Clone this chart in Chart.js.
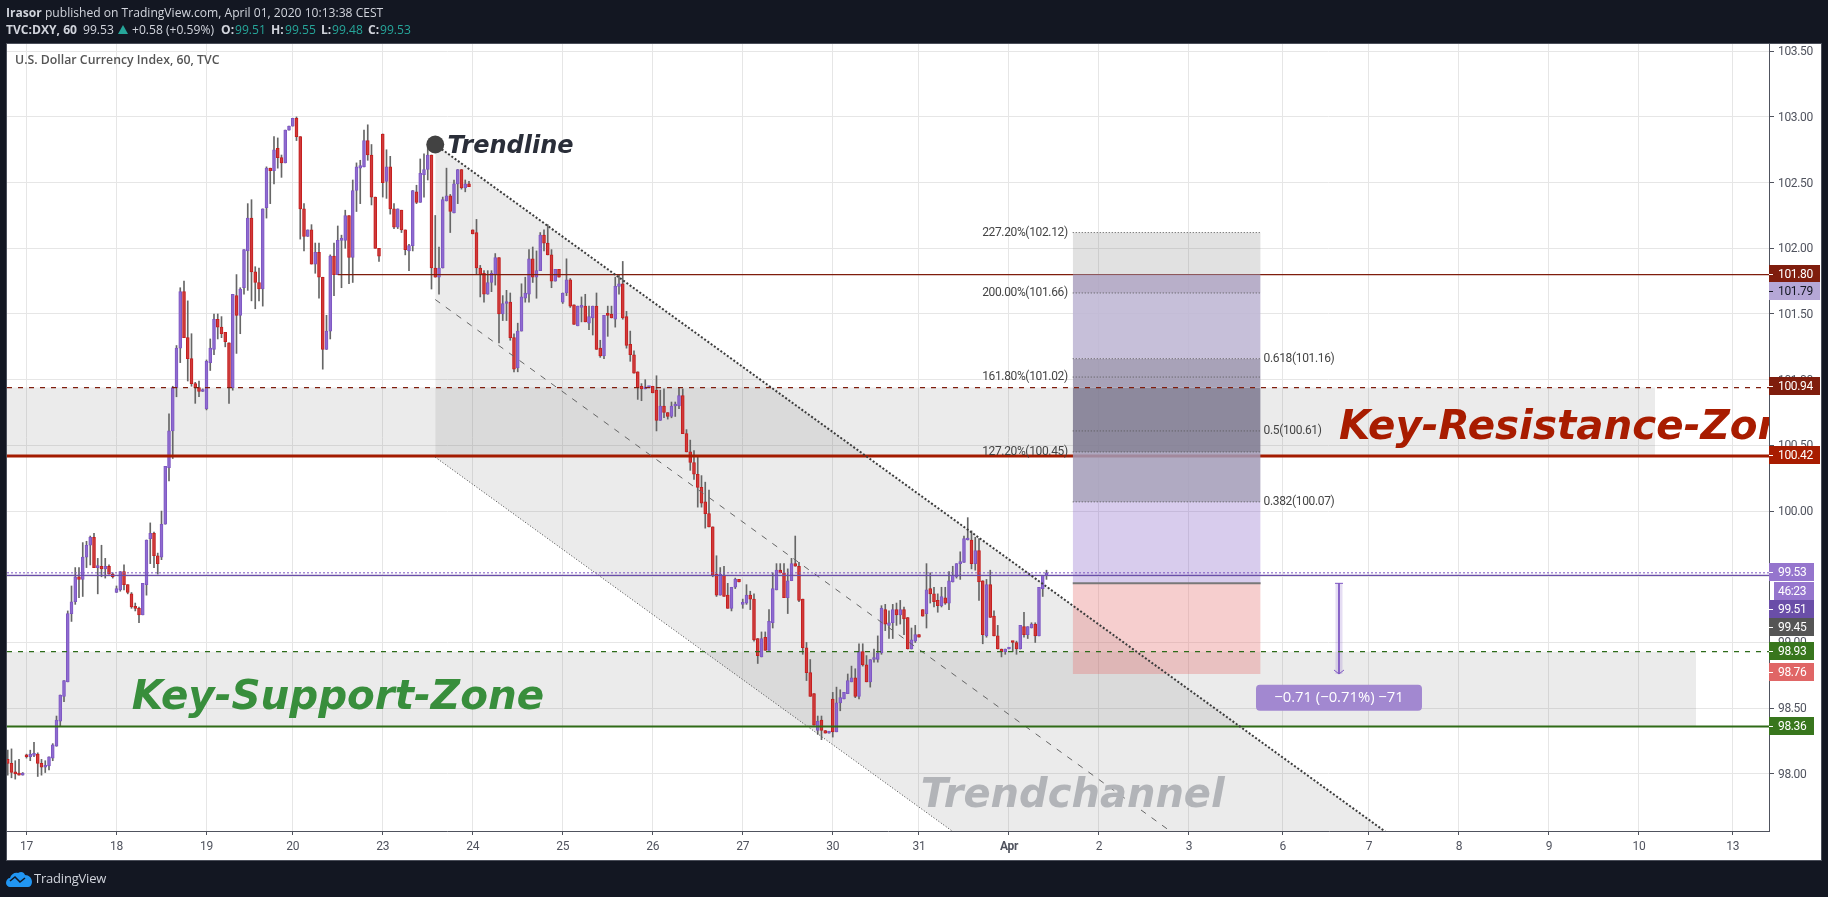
<!DOCTYPE html>
<html>
<head>
<meta charset="utf-8">
<title>DXY 60</title>
<script src="https://cdn.jsdelivr.net/npm/chart.js@4/dist/chart.umd.min.js"></script>
<style>
  html, body { margin: 0; padding: 0; width: 1828px; height: 897px; overflow: hidden; background: #131722; }
  #chart { position: absolute; left: 0; top: 0; }
  .txt { position: absolute; white-space: nowrap; font: 12.1px "Open Sans", sans-serif; color: #d1d4dc; line-height: 16px; }
  .b { font-weight: 700; }
  .up { color: #26a69a; }
</style>
</head>
<body>
<canvas id="chart" width="1828" height="897"></canvas>

<div class="txt" style="left:6px;top:5px"><span class="b">Irasor</span> published on TradingView.com, April 01, 2020 10:13:38 CEST</div>
<div class="txt b" style="left:6px;top:22px">TVC:DXY, 60</div>
<div class="txt" style="left:83px;top:22px">99.53</div>
<svg style="position:absolute;left:118px;top:25px" width="10" height="10"><path d="M5 0 L10 9 L0 9 Z" fill="#26a69a"/></svg>
<div class="txt" style="left:132px;top:22px">+0.58 (+0.59%)</div>
<div class="txt b" style="left:221px;top:22px">O:</div><div class="txt up" style="left:235px;top:22px">99.51</div>
<div class="txt b" style="left:271px;top:22px">H:</div><div class="txt up" style="left:285px;top:22px">99.55</div>
<div class="txt b" style="left:321px;top:22px">L:</div><div class="txt up" style="left:332px;top:22px">99.48</div>
<div class="txt b" style="left:368px;top:22px">C:</div><div class="txt up" style="left:380px;top:22px">99.53</div>
<div class="txt" style="left:15px;top:52px;color:#555;font-weight:600;font-size:12.3px">U.S. Dollar Currency Index, 60, TVC</div>

<svg style="position:absolute;left:6px;top:871px" width="27" height="16" viewBox="0 0 27 16">
  <path d="M0 12 C0 9 2 7 4 7 C5 3 9 1 12 2 C15 0 18 1 19 4 C23 4 26 7 26 11 C26 14 24 16 22 16 L4 16 C2 16 0 14 0 12 Z" fill="#2196f3"/>
  <path d="M4 10 L9 6 L14 11 L19 7" fill="none" stroke="#131722" stroke-width="1.6"/>
</svg>
<div class="txt" style="left:34px;top:870px;font-size:13px;letter-spacing:-0.2px">TradingView</div>

<script>
const FIRST_BAR = -5;
const opens = [
  98.11,98.08,98.01,98.00,97.99,98.14,98.13,98.14,98.15,98.08,
  98.05,98.06,98.12,98.21,98.40,98.59,98.70,99.22,99.31,99.50,
  99.48,99.65,99.74,99.80,99.57,99.58,99.56,99.58,99.52,99.38,
  99.40,99.54,99.44,99.37,99.27,99.26,99.21,99.44,99.79,99.83,
  99.66,99.65,99.90,100.33,100.61,100.94,101.24,101.67,101.32,101.16,
  100.97,100.94,100.91,100.78,101.13,101.23,101.46,101.40,101.36,101.28,
  100.94,101.64,101.49,101.70,101.98,102.23,101.82,101.74,101.69,102.31,
  102.61,102.59,102.76,102.69,102.65,102.90,102.93,102.99,102.85,102.30,
  102.09,102.14,101.88,101.97,101.78,101.23,101.37,101.94,101.80,102.06,
  102.06,102.25,101.93,102.44,102.61,102.62,102.82,102.71,102.39,102.00,
  102.87,102.51,102.62,102.30,102.16,102.29,102.14,101.98,102.02,102.43,
  102.35,102.56,102.60,102.71,101.85,101.78,101.85,102.36,102.40,102.27,
  102.49,102.60,102.46,102.49,102.14,102.12,101.85,101.81,101.65,101.74,
  101.80,101.93,101.50,101.58,101.59,101.32,101.09,101.37,101.62,101.65,
  101.92,101.78,101.83,102.10,102.04,101.95,101.75,101.84,101.59,101.66,
  101.76,101.57,101.41,101.55,101.56,101.43,101.47,101.56,101.24,101.18,
  101.50,101.50,101.46,101.71,101.73,101.48,101.27,101.19,101.06,100.95,
  100.93,100.94,100.95,100.92,100.69,100.80,100.75,100.72,100.80,100.80,
  100.88,100.59,100.45,100.37,100.28,100.18,100.07,99.98,99.88,99.52,
  99.36,99.51,99.36,99.26,99.42,99.48,99.29,99.30,99.36,99.33,
  99.03,98.89,99.04,98.94,99.15,99.40,99.55,99.53,99.34,99.47,
  99.60,99.58,99.33,98.96,98.77,98.61,98.33,98.41,98.33,98.31,
  98.57,98.32,98.54,98.57,98.61,98.70,98.73,98.59,98.93,98.83,
  98.70,98.87,98.87,98.92,99.25,99.13,99.15,99.25,99.21,99.25,
  99.19,98.95,99.01,99.06,99.25,99.22,99.41,99.37,99.32,99.28,
  99.34,99.30,99.46,99.50,99.60,99.61,99.78,99.78,99.60,99.70,
  99.47,99.05,99.44,99.20,99.05,98.95,98.93,98.95,99.01,99.00,
  98.95,99.12,99.06,99.11,99.14,99.05,99.41,99.51
];
const highs = [
  98.18,98.19,98.10,98.11,98.01,98.15,98.18,98.24,98.16,98.11,
  98.10,98.13,98.23,98.44,98.60,98.71,99.24,99.43,99.57,99.57,
  99.76,99.77,99.81,99.83,99.64,99.74,99.64,99.59,99.53,99.43,
  99.54,99.59,99.44,99.38,99.30,99.27,99.45,99.78,99.91,99.84,
  99.68,100.00,100.34,100.74,100.95,101.26,101.70,101.75,101.60,101.35,
  100.98,100.99,100.93,101.15,101.31,101.50,101.50,101.48,101.36,101.28,
  101.65,101.80,101.70,101.99,102.34,102.37,101.86,101.85,102.30,102.62,
  102.61,102.85,102.84,102.71,102.90,102.93,102.99,103.00,102.85,102.34,
  102.14,102.18,102.04,102.04,101.78,101.49,101.95,102.04,102.17,102.10,
  102.29,102.25,102.52,102.65,102.67,102.90,102.94,102.79,102.39,102.00,
  102.87,102.75,102.70,102.34,102.30,102.29,102.14,102.03,102.44,102.48,
  102.68,102.72,102.76,102.71,102.25,102.01,102.39,102.61,102.41,102.52,
  102.60,102.60,102.52,102.51,102.14,102.22,101.87,101.83,101.83,101.83,
  101.96,101.93,101.64,101.68,101.66,101.35,101.43,101.73,101.78,101.99,
  102.01,101.98,102.12,102.14,102.18,101.99,101.84,101.84,101.66,101.92,
  101.77,101.57,101.56,101.63,101.65,101.56,101.56,101.66,101.30,101.49,
  101.56,101.56,101.78,101.80,101.90,101.52,101.37,101.22,101.06,100.97,
  101.00,100.95,100.95,101.03,100.92,100.93,100.75,100.83,100.83,100.94,
  100.93,100.62,100.54,100.46,100.42,100.27,100.22,100.16,99.88,99.66,
  99.57,99.58,99.45,99.42,99.49,99.48,99.33,99.44,99.39,99.37,
  99.03,99.08,99.08,99.25,99.53,99.60,99.60,99.60,99.56,99.64,
  99.81,99.61,99.33,99.00,98.87,98.61,98.44,98.44,98.33,98.32,
  98.62,98.66,98.64,98.62,98.76,98.82,98.80,98.99,98.99,98.90,
  98.87,98.95,99.05,99.28,99.29,99.24,99.29,99.30,99.32,99.27,
  99.19,99.11,99.13,99.06,99.25,99.60,99.53,99.42,99.37,99.42,
  99.42,99.54,99.58,99.60,99.69,99.81,99.95,99.85,99.80,99.79,
  99.47,99.48,99.55,99.24,99.13,98.95,98.95,98.95,99.01,99.01,
  99.13,99.23,99.12,99.15,99.15,99.42,99.51,99.55
];
const lows = [
  97.99,97.97,97.96,97.99,97.99,98.12,98.10,98.13,97.98,97.99,
  98.01,98.03,98.10,98.21,98.36,98.55,98.70,99.16,99.29,99.34,
  99.35,99.57,99.59,99.57,99.37,99.50,99.49,99.52,99.49,99.38,
  99.39,99.40,99.37,99.26,99.24,99.15,99.21,99.36,99.60,99.57,
  99.52,99.63,99.90,100.23,100.40,100.87,101.13,101.32,100.99,100.95,
  100.82,100.87,100.91,100.77,101.07,101.19,101.31,101.32,101.25,100.82,
  100.92,101.20,101.35,101.65,101.68,101.60,101.54,101.60,101.56,102.23,
  102.34,102.49,102.61,102.54,102.65,102.90,102.93,102.82,102.07,101.98,
  102.09,101.88,101.81,101.62,101.08,101.23,101.31,101.64,101.80,101.70,
  102.00,101.73,101.74,102.28,102.34,102.62,102.67,102.33,102.00,101.90,
  102.39,102.38,102.26,102.15,102.15,102.12,101.95,101.83,101.98,102.34,
  102.35,102.39,102.52,101.69,101.78,101.65,101.85,102.36,102.12,102.27,
  102.34,102.45,102.43,102.47,102.11,101.80,101.63,101.59,101.65,101.67,
  101.72,101.28,101.45,101.45,101.30,101.06,101.06,101.37,101.59,101.59,
  101.74,101.62,101.83,101.98,101.95,101.70,101.75,101.78,101.58,101.64,
  101.55,101.42,101.41,101.44,101.44,101.38,101.34,101.23,101.17,101.16,
  101.33,101.47,101.40,101.65,101.46,101.24,101.14,101.05,100.85,100.84,
  100.93,100.94,100.90,100.61,100.69,100.71,100.70,100.71,100.72,100.78,
  100.59,100.45,100.31,100.24,100.03,100.03,99.87,99.88,99.50,99.35,
  99.36,99.35,99.26,99.24,99.41,99.46,99.26,99.29,99.25,99.01,
  98.84,98.89,98.94,98.94,99.11,99.40,99.53,99.34,99.22,99.47,
  99.58,99.31,98.91,98.71,98.59,98.37,98.30,98.26,98.31,98.31,
  98.28,98.32,98.48,98.57,98.61,98.70,98.58,98.57,98.82,98.70,
  98.66,98.85,98.85,98.91,99.09,99.03,99.03,99.13,99.14,99.06,
  98.95,98.95,99.00,99.04,99.20,99.11,99.30,99.27,99.23,99.27,
  99.29,99.25,99.46,99.49,99.48,99.61,99.78,99.56,99.55,99.32,
  98.99,99.04,99.19,99.05,98.95,98.89,98.91,98.95,98.93,98.91,
  98.95,99.04,99.03,99.11,99.00,99.05,99.35,99.48
];
const closes = [
  98.08,98.01,98.00,97.99,98.00,98.13,98.15,98.15,98.08,98.05,
  98.06,98.13,98.22,98.41,98.60,98.71,99.22,99.31,99.50,99.48,
  99.65,99.74,99.80,99.57,99.58,99.56,99.58,99.52,99.50,99.41,
  99.54,99.44,99.38,99.27,99.26,99.21,99.45,99.78,99.83,99.66,
  99.60,99.90,100.34,100.61,100.94,101.24,101.67,101.32,101.16,100.97,
  100.94,100.91,100.92,101.14,101.24,101.46,101.40,101.35,101.29,100.94,
  101.65,101.49,101.69,101.99,102.23,101.82,101.74,101.69,102.30,102.61,
  102.59,102.75,102.69,102.65,102.90,102.93,102.99,102.85,102.30,102.09,
  102.14,101.88,101.97,101.78,101.23,101.37,101.94,101.80,102.06,102.07,
  102.25,101.93,102.44,102.62,102.63,102.82,102.71,102.39,102.00,101.94,
  102.50,102.62,102.30,102.16,102.30,102.14,101.99,102.02,102.44,102.35,
  102.57,102.60,102.71,101.85,101.78,101.85,102.37,102.40,102.28,102.49,
  102.60,102.46,102.49,102.47,102.11,101.85,101.80,101.65,101.74,101.81,
  101.93,101.50,101.58,101.59,101.32,101.08,101.37,101.63,101.66,101.92,
  101.78,101.83,102.10,102.04,101.95,101.75,101.84,101.78,101.66,101.76,
  101.56,101.42,101.56,101.56,101.44,101.48,101.56,101.23,101.18,101.49,
  101.49,101.47,101.71,101.73,101.47,101.26,101.19,101.05,100.94,100.93,
  100.94,100.94,100.90,100.69,100.80,100.75,100.72,100.80,100.80,100.88,
  100.59,100.45,100.37,100.28,100.18,100.06,99.98,99.88,99.51,99.36,
  99.52,99.35,99.26,99.42,99.48,99.46,99.30,99.36,99.33,99.02,
  98.90,99.03,98.94,99.16,99.41,99.55,99.53,99.34,99.47,99.60,
  99.58,99.32,98.96,98.77,98.59,98.37,98.40,98.33,98.31,98.31,
  98.32,98.54,98.58,98.62,98.71,98.73,98.59,98.93,98.83,98.70,
  98.87,98.87,98.92,99.26,99.14,99.15,99.25,99.21,99.25,99.18,
  98.95,99.02,99.06,99.04,99.20,99.40,99.37,99.31,99.28,99.35,
  99.30,99.47,99.51,99.60,99.61,99.79,99.78,99.60,99.70,99.46,
  99.06,99.44,99.19,99.05,98.95,98.93,98.95,98.95,99.00,98.95,
  99.13,99.06,99.12,99.14,99.05,99.42,99.51,99.53
];

const xTickBars = [0,24,48,71,95,119,143,167,191,215,238,262,286,310,335,358,382,406,430,455];
const xTickLabels = ['17','18','19','20','23','24','25','26','27','30','31','Apr','2','3','6','7','8','9','10','13'];
const yTickValues = [98,98.5,99,99.5,100,100.5,101,101.5,102,102.5,103,103.5];

// trendline and channel, given by their two end bars
const channelBars = [109,420];
const trendPrices = [102.79,96.37];
const midPrices = [101.61,95.19];
const lowerPrices = [100.41,93.99];
const trendStart = [109,102.79];

const resistanceZone = [100.94,100.42];
const resistanceEndBar = 434.3;
const supportZone = [98.93,98.36];
const supportEndBar = 445.2;
const hlineStartBar = 83;

// fib and long position box
const boxBars = [279,329.1];
const bandTops = [102.12,101.80,101.66,101.16,100.94,100.45];
const bandBottoms = [101.80,101.66,101.16,100.94,100.45,100.07];
const entryPrice = 99.45;
const longTarget = 100.07;
const stopPrice = 98.76;
const fibLevels = [102.12,101.66,101.16,101.02,100.61,100.45,100.07];
const fibTexts = ['227.20%(102.12)','200.00%(101.66)','0.618(101.16)','161.80%(101.02)','0.5(100.61)','127.20%(100.45)','0.382(100.07)'];
const fibOnRight = [false,false,true,false,true,false,true];

const measureBar = 350;
const measurePrices = [99.45,98.76];
const measureText = '\u22120.71 (\u22120.71%) \u221271';
const measureLabelPrice = 98.58;

const noteTexts = ['Key-Support-Zone','Key-Resistance-Zone','Trendchannel','Trendline'];
const noteBars = [28.1,350,238.5,112.3];
const notePrices = [98.495,100.55,97.75,102.725];

const tagValues = [101.80,101.79,100.94,100.42,99.53,99.53,99.51,99.45,98.93,98.76,98.36];
const tagTexts = ['101.80','101.79','100.94','100.42','99.53','46:23','99.51','99.45','98.93','98.76','98.36'];

// styles
const AXIS_FONT = 'Roboto, "Liberation Sans", sans-serif';
const AXIS_SPACING = '-0.35px';
const NOTE_FONT = '"DejaVu Sans", sans-serif';
const AXIS_COLOR = '#50535e';
const GRID_COLOR = '#e6e6e6';
const ZONE_FILL = 'rgba(120,120,120,0.15)';
const BAND_COLORS = ['rgba(120,120,120,0.22)','rgba(171,161,191,0.85)','rgba(188,180,210,0.85)','rgba(153,146,172,0.85)','rgba(125,120,143,0.85)','rgba(162,155,183,0.85)'];
const NOTE_COLORS = ['#388e3c','#a81c00','#b2b4b8','#2a2e39'];
const NOTE_SIZES = [40.4,40.4,40,24];
const TAG_COLORS = ['#7f1d0d','#b5a7d6','#7f1d0d','#a81c00','#9575cd','#9575cd','#6a4ea8','#555555','#38761d','#e06666','#38761d'];
const TAG_NUDGE = [-1,15,-1.5,-1,-1,18,34,44,-1,-2,-1];
const TAG_WIDE = [true,true,true,true,false,false,false,false,false,false,false];

const X_MIN = -5.2, X_MAX = 464.67;
const barIndex = opens.map((_, i) => FIRST_BAR + i);

function hline(price, x0, x1, color, width, dash, order) {
  return {
    type: 'line', order: order, pointRadius: 0, fill: false,
    data: [{ x: x0, y: price }, { x: x1, y: price }],
    borderColor: color, borderWidth: width, borderDash: dash || []
  };
}

function rect(top, bottom, x0, x1, color, order) {
  return {
    type: 'line', order: order, pointRadius: 0, borderWidth: 0,
    data: [{ x: x0, y: top }, { x: x1, y: top }],
    fill: { value: bottom }, backgroundColor: color
  };
}

function slanted(prices, color, width, dash, order) {
  return {
    type: 'line', order: order, pointRadius: 0, fill: false,
    data: channelBars.map((b, i) => ({ x: b, y: prices[i] })),
    borderColor: color, borderWidth: width, borderDash: dash
  };
}

const datasets = [];

// zones under everything
datasets.push(rect(resistanceZone[0], resistanceZone[1], X_MIN, resistanceEndBar, ZONE_FILL, 90));
datasets.push(rect(supportZone[0], supportZone[1], X_MIN, supportEndBar, ZONE_FILL, 90));

// channel body: fill runs from the trendline down to the lower line
const lowerIdx = datasets.length;
datasets.push(slanted(lowerPrices, '#444', 1, [1, 2], 12));
const trendFill = slanted(trendPrices, 'rgba(0,0,0,0)', 0, [], 80);
trendFill.fill = { target: lowerIdx };
trendFill.backgroundColor = ZONE_FILL;
datasets.push(trendFill);
datasets.push(slanted(midPrices, '#666', 1, [6, 7], 12));
datasets.push(slanted(trendPrices, '#3c3c3c', 2, [2, 2], 3));

// candles
datasets.push({
  type: 'bar', order: 50, grouped: false, barThickness: 1,
  data: barIndex.map((x, i) => ({ x: x, y: [lows[i], highs[i]] })),
  backgroundColor: '#666666', borderWidth: 0
});
datasets.push({
  type: 'bar', order: 49, grouped: false, barThickness: 3, minBarLength: 2,
  data: barIndex.map((x, i) => ({ x: x, y: [opens[i], closes[i]] })),
  backgroundColor: opens.map((o, i) => closes[i] >= o ? '#8e6bd0' : '#d03a3a'),
  borderColor: opens.map((o, i) => closes[i] >= o ? '#7e57c2' : '#c41e1e'),
  borderWidth: 1, borderSkipped: false
});

// price levels
datasets.push(hline(resistanceZone[1], X_MIN, X_MAX, '#a31b00', 3, [], 40));
datasets.push(hline(101.80, hlineStartBar, X_MAX, '#7f1d0d', 1.4, [], 40));
datasets.push(hline(supportZone[1], X_MIN, X_MAX, '#2f6b17', 2, [], 8));
datasets.push(hline(resistanceZone[0], X_MIN, X_MAX, '#7f1d0d', 1.3, [5, 6], 8));
datasets.push(hline(supportZone[0], X_MIN, X_MAX, '#2e6b1a', 1.3, [5, 6], 8));
datasets.push(hline(99.51, X_MIN, X_MAX, '#6a4ea8', 1.2, [], 8));
datasets.push(hline(99.53, X_MIN, X_MAX, '#7e57c2', 1, [2, 2], 8));

// fib and long position box
bandTops.forEach((top, i) => {
  datasets.push(rect(top, bandBottoms[i], boxBars[0], boxBars[1], BAND_COLORS[i], 30));
});
datasets.push(rect(longTarget, entryPrice, boxBars[0], boxBars[1], 'rgba(126,87,194,0.3)', 30));
datasets.push(rect(entryPrice, stopPrice, boxBars[0], boxBars[1], 'rgba(229,115,115,0.35)', 30));
fibLevels.forEach(level => {
  datasets.push(hline(level, boxBars[0], boxBars[1], '#555', 1, [1, 2], 20));
});
datasets.push(hline(entryPrice, boxBars[0], boxBars[1], '#787878', 2, [], 20));

// measure arrow
datasets.push({
  type: 'line', order: 10, pointRadius: 0, fill: false,
  data: measurePrices.map(p => ({ x: measureBar, y: p })),
  borderColor: 'rgba(126,87,194,0.2)', borderWidth: 7
});
datasets.push({
  type: 'line', order: 9, pointRadius: 0, fill: false,
  data: measurePrices.map(p => ({ x: measureBar, y: p })),
  borderColor: '#7e57c2', borderWidth: 1
});

// dot at the start of the trendline
datasets.push({
  type: 'line', order: 1, showLine: false, fill: false,
  data: [{ x: trendStart[0], y: trendStart[1] }],
  pointRadius: 9, pointBackgroundColor: '#424242', pointBorderWidth: 0
});

const panelPlugin = {
  id: 'panel',
  beforeDraw(chart) {
    const ctx = chart.ctx;
    ctx.save();
    ctx.fillStyle = '#ffffff';
    ctx.fillRect(7, 44, 1814, 816);
    ctx.strokeStyle = '#4a4e59';
    ctx.lineWidth = 1;
    ctx.strokeRect(6.5, 43.5, 1815, 817);
    ctx.restore();
    // narrower digits on the axes, stays set while the scales draw
    ctx.letterSpacing = AXIS_SPACING;
  }
};

const notesPlugin = {
  id: 'notes',
  afterDatasetsDraw(chart) {
    const ctx = chart.ctx, xs = chart.scales.x, ys = chart.scales.y, area = chart.chartArea;
    ctx.save();
    ctx.beginPath();
    ctx.rect(area.left, area.top, area.right - area.left, area.bottom - area.top);
    ctx.clip();

    ctx.letterSpacing = '0px';
    noteTexts.forEach((text, i) => {
      ctx.font = 'italic bold ' + NOTE_SIZES[i] + 'px ' + NOTE_FONT;
      ctx.fillStyle = NOTE_COLORS[i];
      ctx.textAlign = 'left';
      ctx.textBaseline = 'alphabetic';
      ctx.fillText(text, xs.getPixelForValue(noteBars[i]), ys.getPixelForValue(notePrices[i]));
    });

    // fib labels sit outside the box, on either side
    ctx.letterSpacing = '-0.35px';
    ctx.font = '12px ' + AXIS_FONT;
    ctx.fillStyle = '#444444';
    ctx.textBaseline = 'middle';
    fibLevels.forEach((level, i) => {
      const y = ys.getPixelForValue(level);
      if (fibOnRight[i]) {
        ctx.textAlign = 'left';
        ctx.fillText(fibTexts[i], xs.getPixelForValue(boxBars[1]) + 3, y);
      } else {
        ctx.textAlign = 'right';
        ctx.fillText(fibTexts[i], xs.getPixelForValue(boxBars[0]) - 5, y);
      }
    });

    // measure arrow ends and its label
    const mx = xs.getPixelForValue(measureBar);
    const y0 = ys.getPixelForValue(measurePrices[0]);
    const y1 = ys.getPixelForValue(measurePrices[1]);
    ctx.strokeStyle = '#7e57c2';
    ctx.lineWidth = 1;
    ctx.beginPath();
    ctx.moveTo(mx - 4, y0); ctx.lineTo(mx + 4, y0);
    ctx.moveTo(mx - 5, y1 - 4); ctx.lineTo(mx, y1); ctx.lineTo(mx + 5, y1 - 4);
    ctx.stroke();

    const my = ys.getPixelForValue(measureLabelPrice);
    ctx.fillStyle = '#a288d0';
    ctx.beginPath();
    ctx.roundRect(mx - 83, my - 13, 166, 26, 4);
    ctx.fill();
    ctx.letterSpacing = '0px';
    ctx.font = '14.8px "Open Sans", sans-serif';
    ctx.fillStyle = '#ffffff';
    ctx.textAlign = 'center';
    ctx.fillText(measureText, mx, my);
    ctx.restore();
  },
  afterDraw(chart) {
    const ctx = chart.ctx, ys = chart.scales.y, right = chart.chartArea.right;
    ctx.save();
    ctx.letterSpacing = AXIS_SPACING;
    ctx.font = '12px ' + AXIS_FONT;
    ctx.textBaseline = 'middle';
    ctx.textAlign = 'left';
    tagValues.forEach((value, i) => {
      const y = Math.round(ys.getPixelForValue(value) + TAG_NUDGE[i]);
      const w = TAG_WIDE[i] ? 51 : 45;
      const isTimer = tagTexts[i].includes(':');
      ctx.fillStyle = TAG_COLORS[i];
      ctx.fillRect(right + (isTimer ? 5 : 0), y - 9, w - (isTimer ? 5 : 0), 18);
      const dark = tagTexts[i] === '101.79';
      ctx.fillStyle = dark ? '#131722' : '#ffffff';
      if (!isTimer) ctx.fillRect(right, y, 4, 1);
      ctx.fillText(tagTexts[i], right + 9, y + 1);
    });
    ctx.restore();
  }
};

new Chart(document.getElementById('chart'), {
  type: 'bar',
  data: { datasets: datasets },
  plugins: [panelPlugin, notesPlugin],
  options: {
    responsive: false,
    devicePixelRatio: 1,
    animation: false,
    events: [],
    // the trendline dot would otherwise push the plot area in by its radius
    layout: { autoPadding: false, padding: { left: 7, top: 44, right: 7, bottom: 37 } },
    plugins: { legend: { display: false }, tooltip: { enabled: false } },
    scales: {
      x: {
        type: 'linear', min: X_MIN, max: X_MAX, offset: false,
        afterBuildTicks(axis) { axis.ticks = xTickBars.map(v => ({ value: v })); },
        afterFit(axis) { axis.height = 29; axis.paddingLeft = 0; axis.paddingRight = 0; },
        grid: { offset: false, color: GRID_COLOR, tickColor: AXIS_COLOR, tickLength: 4, lineWidth: 1 },
        border: { color: AXIS_COLOR, width: 1 },
        ticks: {
          autoSkip: false, maxRotation: 0, padding: 5, color: '#50535e',
          font: ctx => ({ family: AXIS_FONT, size: 12, weight: ctx.index === 11 ? 'bold' : 'normal' }),
          callback: (value, index) => xTickLabels[index]
        }
      },
      y: {
        type: 'linear', position: 'right', min: 97.565, max: 103.555,
        afterBuildTicks(axis) { axis.ticks = yTickValues.map(v => ({ value: v })); },
        afterFit(axis) { axis.width = 52; axis.paddingTop = 0; axis.paddingBottom = 0; },
        grid: { color: GRID_COLOR, tickColor: AXIS_COLOR, tickLength: 5, lineWidth: 1 },
        border: { color: AXIS_COLOR, width: 1 },
        ticks: {
          padding: 4, color: '#50535e', labelOffset: 1,
          font: { family: AXIS_FONT, size: 12 },
          callback: value => value.toFixed(2)
        }
      }
    }
  }
});
</script>
</body>
</html>
